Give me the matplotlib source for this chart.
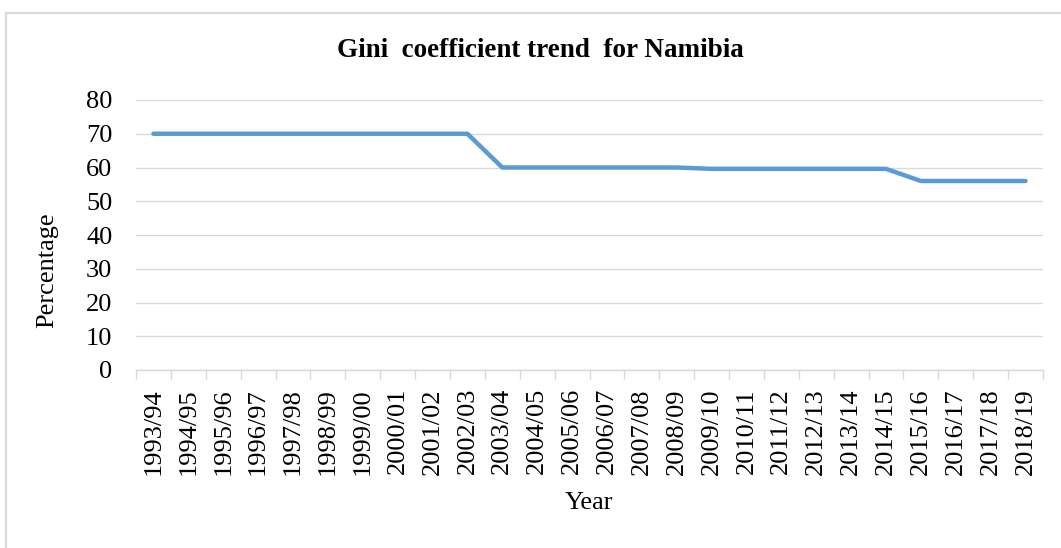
import matplotlib.pyplot as plt
from matplotlib.patches import Rectangle

years = ['1993/94', '1994/95', '1995/96', '1996/97', '1997/98', '1998/99',
         '1999/00', '2000/01', '2001/02', '2002/03', '2003/04', '2004/05',
         '2005/06', '2006/07', '2007/08', '2008/09', '2009/10', '2010/11',
         '2011/12', '2012/13', '2013/14', '2014/15', '2015/16', '2016/17',
         '2017/18', '2018/19']
gini = [70, 70, 70, 70, 70, 70, 70, 70, 70, 70,
        60, 60, 60, 60, 60, 60,
        59.6, 59.6, 59.6, 59.6, 59.6, 59.6,
        56, 56, 56, 56]

plt.rcParams['font.family'] = ['Liberation Serif', 'DejaVu Serif']
grid_c = '#d9d9d9'

fig = plt.figure(figsize=(10.61, 5.48), dpi=100)
# chart border
fig.patches.append(Rectangle((6 / 1061, -0.1), 1.2, 1 - 13 / 548 + 0.1,
                             transform=fig.transFigure, fill=False,
                             ec=grid_c, lw=1.6))

ax = fig.add_axes([136 / 1061, 1 - 370 / 548, 907 / 1061, 270 / 548])
x = list(range(len(years)))
ax.plot(x, gini, color='#5b9bd5', lw=3.2, solid_capstyle='round',
        solid_joinstyle='round', zorder=3)

ax.set_xlim(-0.5, len(years) - 0.5)
ax.set_ylim(0, 80)
ax.set_yticks(range(0, 81, 10))
ax.set_xticks(x)
ax.set_xticklabels(years, rotation=90)
ax.set_xticks([i - 0.5 for i in range(len(years) + 1)], minor=True)
ax.tick_params(axis='x', which='major', length=0, pad=13, labelsize=19)
ax.tick_params(axis='x', which='minor', length=6.5, width=1, color=grid_c)
ax.tick_params(axis='y', length=0, pad=17, labelsize=19)

ax.grid(axis='y', color=grid_c, lw=1)
ax.set_axisbelow(True)
for s in ['top', 'right', 'left']:
    ax.spines[s].set_visible(False)
ax.spines['bottom'].set_color(grid_c)
ax.spines['bottom'].set_linewidth(1)

fig.text(540 / 1061, 1 - 50 / 548, 'Gini  coefficient trend  for Namibia',
         ha='center', va='center', fontsize=19.5, fontweight='bold')
fig.text(47 / 1061, 1 - 270 / 548, 'Percentage', rotation=90,
         ha='center', va='center', fontsize=19)
fig.text(589 / 1061, 1 - 503 / 548, 'Year', ha='center', va='center',
         fontsize=19)

fig.savefig('out.png', dpi=100)
